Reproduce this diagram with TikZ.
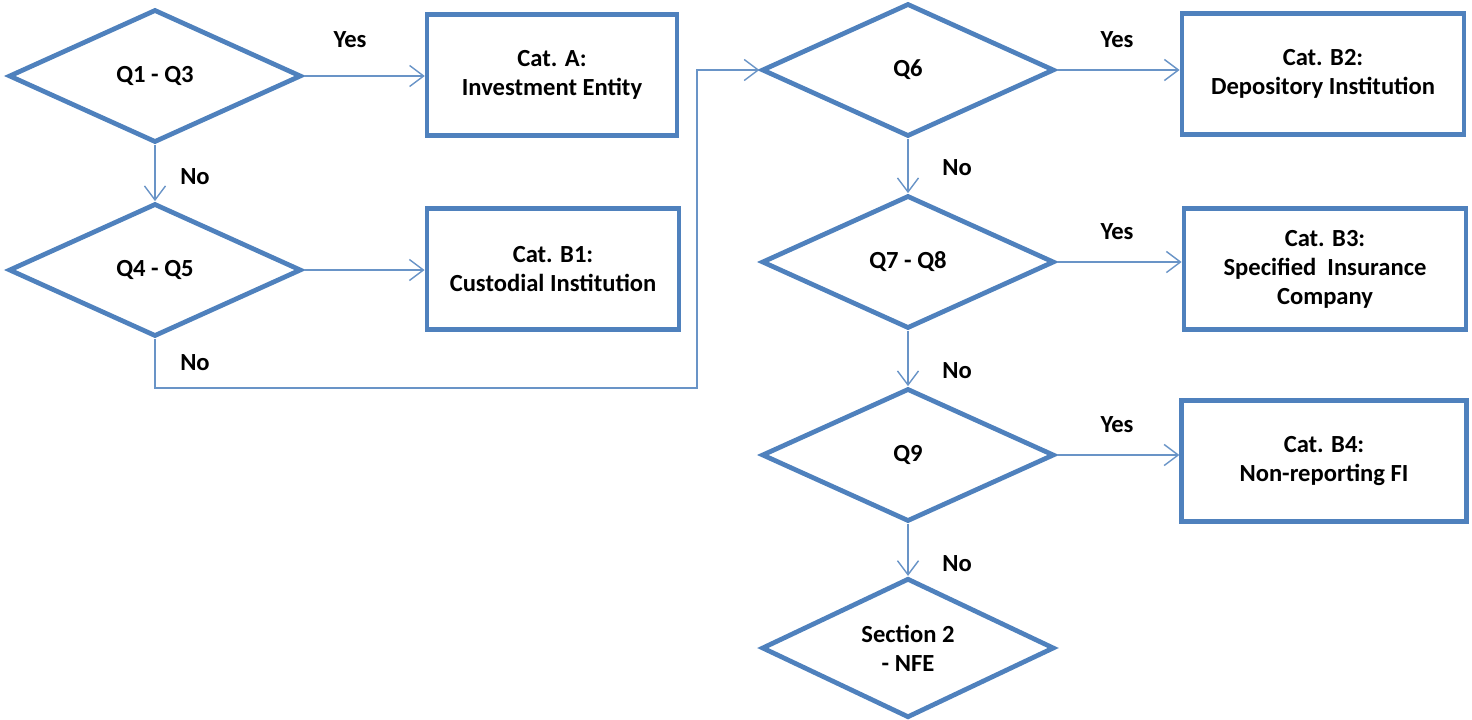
\documentclass[tikz,border=0pt]{standalone}
\usepackage{fontspec}
\setmainfont{Carlito}
\usetikzlibrary{shapes.geometric, arrows.meta}
\definecolor{fblue}{HTML}{4F81BD}

\begin{document}
\begin{tikzpicture}[x=0.02cm, y=-0.02cm,
    every node/.style={font=\bfseries\fontsize{14}{16.5}\selectfont},
    decision/.style={diamond, draw=fblue, line width=2.7pt, minimum width=5.85cm,
      minimum height=2.66cm, inner sep=0pt, align=center},
    catbox/.style={rectangle, draw=fblue, line width=2.5pt, minimum height=2.42cm,
      inner sep=0pt, align=center},
    link/.style={draw=fblue!85, line width=0.8pt, -{Straight Barb[length=8pt,width=12pt]}},
    ans/.style={inner sep=0pt}]
      \useasboundingbox (0,0) rectangle (1472,720);

      % left column
      \node[decision] (q1) at (155,76) {Q1 - Q3};
      \node[decision] (q4) at (155,270) {Q4 - Q5};
      \node[catbox, minimum width=5.0cm] (catA) at (552,75) {Cat. A:\\Investment Entity};
      \node[catbox, minimum width=5.05cm] (catB1) at (553,269) {Cat. B1:\\Custodial Institution};

      % right column
      \node[decision] (q6) at (908,70) {Q6};
      \node[decision] (q7) at (908,262) {Q7 - Q8};
      \node[decision] (q9) at (908,455) {Q9};
      \node[decision] (nfe) at (908,648) {Section 2\\- NFE};
      \node[catbox, minimum width=5.65cm] (catB2) at (1323,74) {Cat. B2:\\Depository Institution};
      \node[catbox, minimum width=5.65cm] (catB3) at (1325,269) {Cat. B3:\\Specified~ Insurance\\Company};
      \node[catbox, minimum width=5.7cm] (catB4) at (1324,461) {Cat. B4:\\Non-reporting FI};

      \coordinate (bend) at (697,388);

      \draw[link] (q1.east) -- (q1.east -| catA.west);
      \draw[link] (q1.south) -- (q4.north);
      \draw[link] (q4.east) -- (q4.east -| catB1.west);
      \draw[link] (q4.south) |- (bend) |- (q6.west);
      \draw[link] (q6.east) -- (q6.east -| catB2.west);
      \draw[link] (q6.south) -- (q7.north);
      \draw[link] (q7.east) -- (q7.east -| catB3.west);
      \draw[link] (q7.south) -- (q9.north);
      \draw[link] (q9.east) -- (q9.east -| catB4.west);
      \draw[link] (q9.south) -- (nfe.north);

      % answers
      \node[ans] (y1) at (350,40) {Yes};
      \node[ans] (y2) at (1117,40) {Yes};
      \node[ans] (y3) at (1117,232) {Yes};
      \node[ans] (y4) at (1117,425) {Yes};
      \node[ans] (n1) at (195,177) {No};
      \node[ans] (n2) at (195,363) {No};
      \node[ans] (n3) at (957,168) {No};
      \node[ans] (n4) at (957,371) {No};
      \node[ans] (n5) at (957,564) {No};
    \end{tikzpicture}
\end{document}
